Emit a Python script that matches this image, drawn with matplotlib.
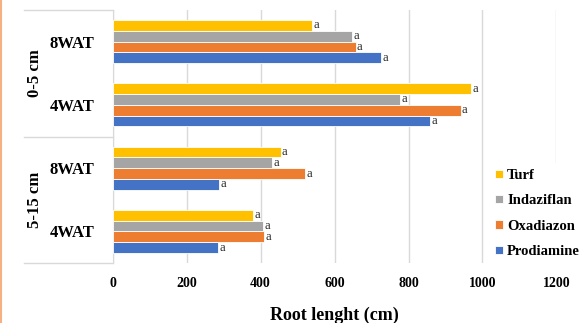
import matplotlib
matplotlib.use("Agg")
import matplotlib.pyplot as plt
from matplotlib.lines import Line2D
import numpy as np

# Data (top to bottom in chart: 0-5 cm 8WAT, 0-5 cm 4WAT, 5-15 cm 8WAT, 5-15 cm 4WAT)
categories = ["4WAT", "8WAT", "4WAT", "8WAT"]          # bottom -> top
groups = ["5-15 cm", "0-5 cm"]                         # bottom -> top
prodiamine = [285, 288, 859, 726]
oxadiazon = [410, 520, 941, 657]
indaziflan = [407, 431, 778, 647]
turf = [380, 454, 970, 539]
letters = ["a"] * 4
series_names = ["Prodiamine", "Oxadiazon", "Indaziflan", "Turf"]
colors = ["#4472C4", "#ED7D31", "#A5A5A5", "#FFC000"]
xticks = [0, 200, 400, 600, 800, 1000, 1200]

serif = ["Liberation Serif", "DejaVu Serif"]
plt.rcParams["font.family"] = serif

fig = plt.figure(figsize=(5.82, 3.23), dpi=100)
W, H = 582, 323
ax = fig.add_axes([112.7 / W, 1 - 263 / H, (556.4 - 112.7) / W, (263 - 10) / H])

y = np.arange(len(categories))
h = 0.17
data = [prodiamine, oxadiazon, indaziflan, turf]
offsets = [-1.5 * h, -0.5 * h, 0.5 * h, 1.5 * h]
handles = []
for vals, col, off, name in zip(data, colors, offsets, series_names):
    bars = ax.barh(y + off, vals, height=h, color=col, edgecolor="white",
                   linewidth=0.6, label=name, zorder=3)
    handles.append(bars)
    for yi, v, lt in zip(y, vals, letters):
        ax.text(v + 3, yi + off, lt, fontsize=9, va="center", ha="left",
                color="#262626", zorder=4)

ax.set_xlim(0, 1200)
ax.set_ylim(-0.5, 3.5)
ax.set_xticks(xticks)
ax.set_xticklabels([str(t) for t in xticks], fontsize=10, fontweight="bold")
ax.set_yticks(y)
ax.set_yticklabels(categories, fontsize=12, fontweight="bold")
ax.tick_params(axis="both", length=0)
ax.tick_params(axis="x", pad=10)
ax.tick_params(axis="y", pad=13)
ax.grid(axis="x", color="#D9D9D9", linewidth=1, zorder=0)
for s in ["top", "right", "bottom"]:
    ax.spines[s].set_visible(False)
ax.spines["left"].set_color("#D9D9D9")
ax.set_xlabel("Root lenght (cm)", fontsize=13, fontweight="bold", labelpad=12)

# group labels and separators
gy = [(136 + 263) / 2, (10 + 136) / 2]
for g, yy in zip(groups, gy):
    fig.text(35 / W, 1 - yy / H, g, rotation=90, fontsize=12, fontweight="bold",
             ha="center", va="center")
for yy in [10, 136.5, 263]:
    fig.add_artist(Line2D([24 / W, 112.7 / W], [1 - yy / H, 1 - yy / H],
                          color="#D9D9D9", linewidth=1))
# left border line
fig.add_artist(Line2D([1 / W, 1 / W], [0, 1], color="#F4B183", linewidth=1.5))

leg = ax.legend(handles=handles[::-1], labels=series_names[::-1], loc="center left",
                bbox_to_anchor=(489.5 / W, 1 - 213.5 / H), bbox_transform=fig.transFigure,
                frameon=True, facecolor="white", edgecolor="none", framealpha=1,
                prop={"weight": "bold", "size": 10.5, "family": serif},
                handlelength=0.5, handleheight=0.5, handletextpad=0.3,
                labelspacing=0.85, borderpad=0.4, borderaxespad=0)
leg.set_zorder(5)

fig.savefig("out.png", dpi=100)
